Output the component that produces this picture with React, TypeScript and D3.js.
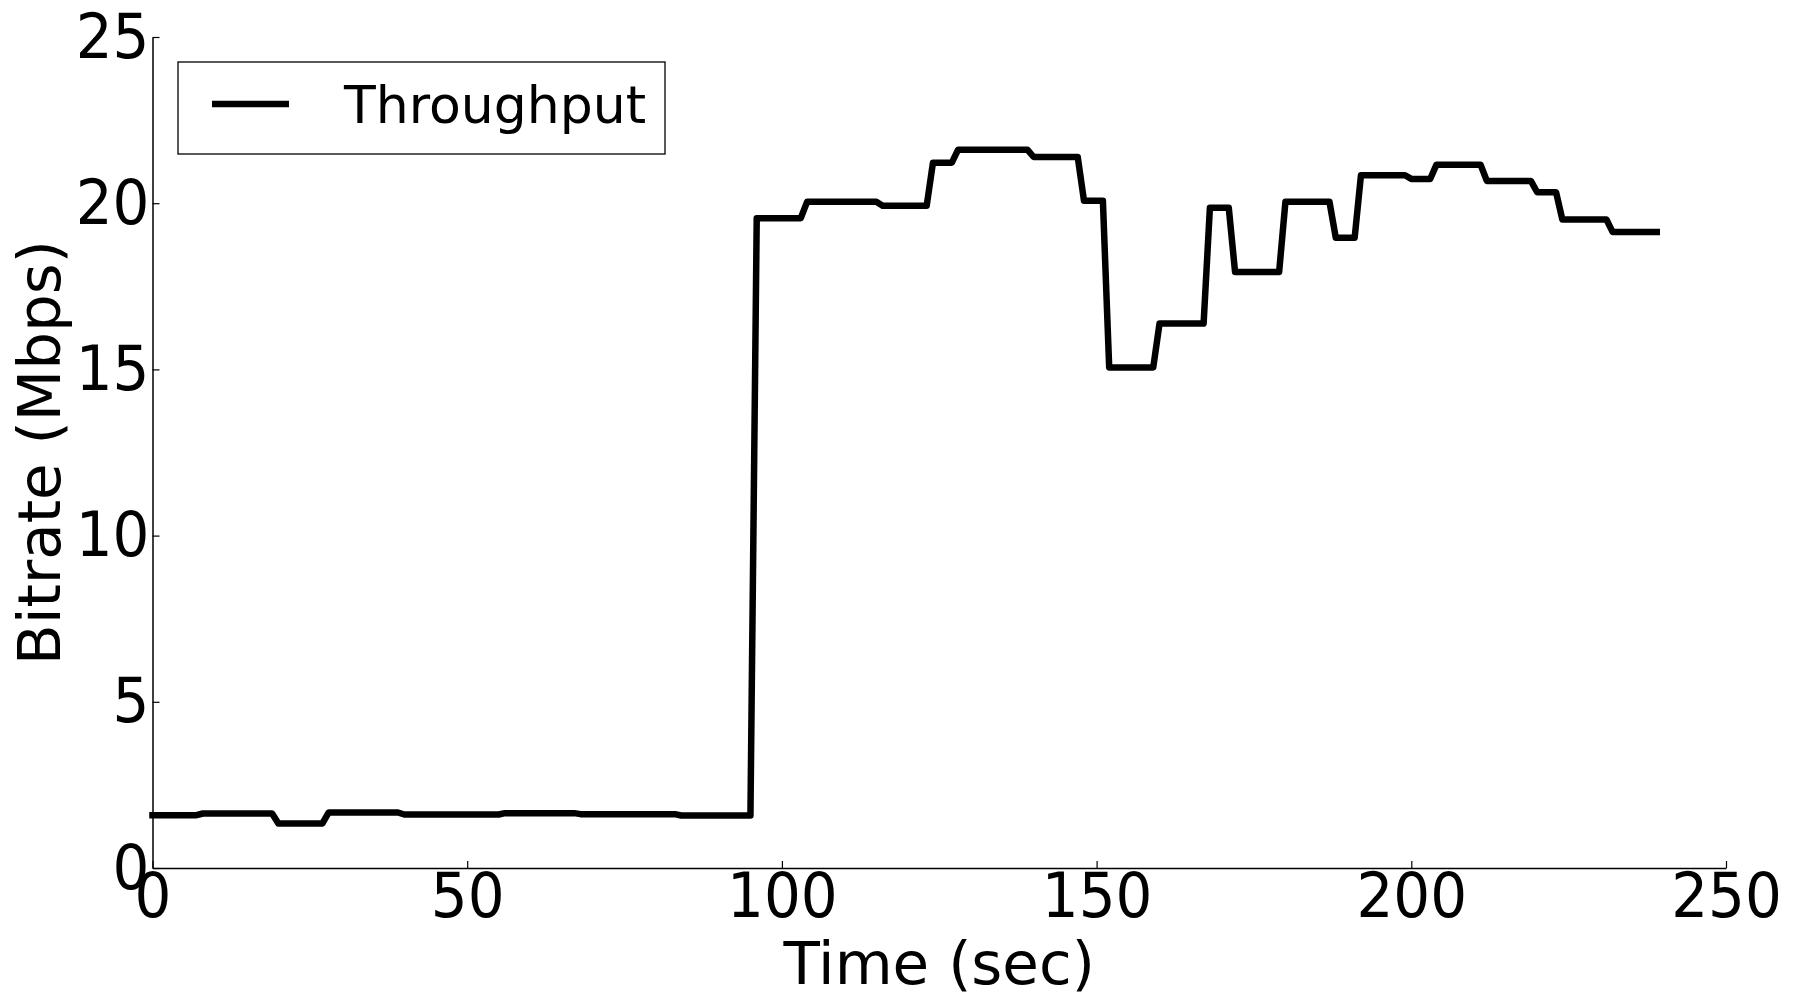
import React, { useEffect, useRef } from "react";
import * as d3 from "d3";

// time (sec) of each sample corner
const times = [
  0, 7, 8, 19, 20, 27, 28, 39, 40, 55, 56, 67, 68, 83, 84, 95, 96, 103, 104,
  115, 116, 123, 124, 127, 128, 139, 140, 147, 148, 151, 152, 159, 160, 167,
  168, 171, 172, 179, 180, 187, 188, 191, 192, 199, 200, 203, 204, 211, 212,
  219, 220, 223, 224, 231, 232, 239,
];
// throughput in Mbps
const throughput = [
  1.59, 1.59, 1.64, 1.64, 1.34, 1.34, 1.67, 1.67, 1.61, 1.61, 1.65, 1.65, 1.62,
  1.62, 1.58, 1.58, 19.55, 19.55, 20.04, 20.04, 19.92, 19.92, 21.22, 21.22,
  21.61, 21.61, 21.39, 21.39, 20.07, 20.07, 15.06, 15.06, 16.38, 16.38, 19.86,
  19.86, 17.93, 17.93, 20.04, 20.04, 18.96, 18.96, 20.84, 20.84, 20.73, 20.73,
  21.16, 21.16, 20.67, 20.67, 20.33, 20.33, 19.51, 19.51, 19.13, 19.13,
];
const xTicks = [0, 50, 100, 150, 200, 250];
const yTicks = [0, 5, 10, 15, 20, 25];
const seriesName = "Throughput";

const W = 1798;
const H = 993;
const font = "DejaVu Sans";

const ThroughputChart = () => {
  const svgRef = useRef<SVGSVGElement>(null);

  useEffect(() => {
    const margin = { top: 37, right: 72, bottom: 125, left: 152.5 };
    const width = W - margin.left - margin.right;
    const height = H - margin.top - margin.bottom;

    const root = d3.select(svgRef.current);
    root.selectAll("*").remove();

    const svg = root
      .append("g")
      .attr("transform", `translate(${margin.left},${margin.top})`);

    const x = d3.scaleLinear().domain([0, 250]).range([0, width]);
    const y = d3.scaleLinear().domain([0, 25]).range([height, 0]);

    const data = times.map((t, i) => [t, throughput[i]] as [number, number]);
    const line = d3
      .line<[number, number]>()
      .x((d) => x(d[0]))
      .y((d) => y(d[1]));

    svg
      .append("path")
      .datum(data)
      .attr("fill", "none")
      .attr("stroke", "#000")
      .attr("stroke-width", 6.5)
      .attr("stroke-linejoin", "round")
      .attr("stroke-linecap", "square")
      .attr("d", line);

    const xAxis = d3
      .axisBottom(x)
      .tickValues(xTicks)
      .tickSizeInner(-7)
      .tickSizeOuter(0)
      .tickPadding(6);
    const yAxis = d3
      .axisLeft(y)
      .tickValues(yTicks)
      .tickSizeInner(-7)
      .tickSizeOuter(0)
      .tickPadding(3);

    // tick labels are a bit taller than plain DejaVu in the original
    const gx = svg
      .append("g")
      .attr("transform", `translate(0,${height})`)
      .call(xAxis);
    gx.selectAll("text")
      .attr("font-family", font)
      .attr("font-size", 58)
      .attr("fill", "#000")
      .attr("dy", "0.674em")
      .attr("transform", "scale(1,1.08)");

    const gy = svg.append("g").call(yAxis);
    gy.selectAll("text")
      .attr("font-family", font)
      .attr("font-size", 58)
      .attr("fill", "#000")
      .attr("transform", "scale(1,1.08)");

    svg.selectAll(".domain").attr("stroke", "#000").attr("stroke-width", 1.5);
    svg.selectAll(".tick line").attr("stroke", "#000").attr("stroke-width", 1.2);

    // axis labels
    svg
      .append("text")
      .attr("x", width / 2)
      .attr("y", height + 116)
      .attr("text-anchor", "middle")
      .attr("font-family", font)
      .attr("font-size", 59.5)
      .text("Time (sec)");

    svg
      .append("text")
      .attr("transform", `translate(${-margin.left + 60},${height / 2}) rotate(-90)`)
      .attr("text-anchor", "middle")
      .attr("font-family", font)
      .attr("font-size", 59.5)
      .text("Bitrate (Mbps)");

    // legend
    const lg = svg.append("g").attr("transform", `translate(${178 - margin.left},${62 - margin.top})`);
    lg.append("rect")
      .attr("width", 487)
      .attr("height", 92)
      .attr("fill", "#fff")
      .attr("stroke", "#000")
      .attr("stroke-width", 1.3);
    lg.append("line")
      .attr("x1", 34)
      .attr("x2", 111)
      .attr("y1", 42)
      .attr("y2", 42)
      .attr("stroke", "#000")
      .attr("stroke-width", 6.5);
    lg.append("text")
      .attr("x", 166)
      .attr("y", 61)
      .attr("font-family", font)
      .attr("font-size", 52)
      .text(seriesName);
  }, []);

  return <svg ref={svgRef} width={W} height={H} style={{ display: "block" }} />;
};

export default function App() {
  return (
    <div style={{ position: "absolute", left: 0, top: 0, background: "#fff" }}>
      <ThroughputChart />
    </div>
  );
}
